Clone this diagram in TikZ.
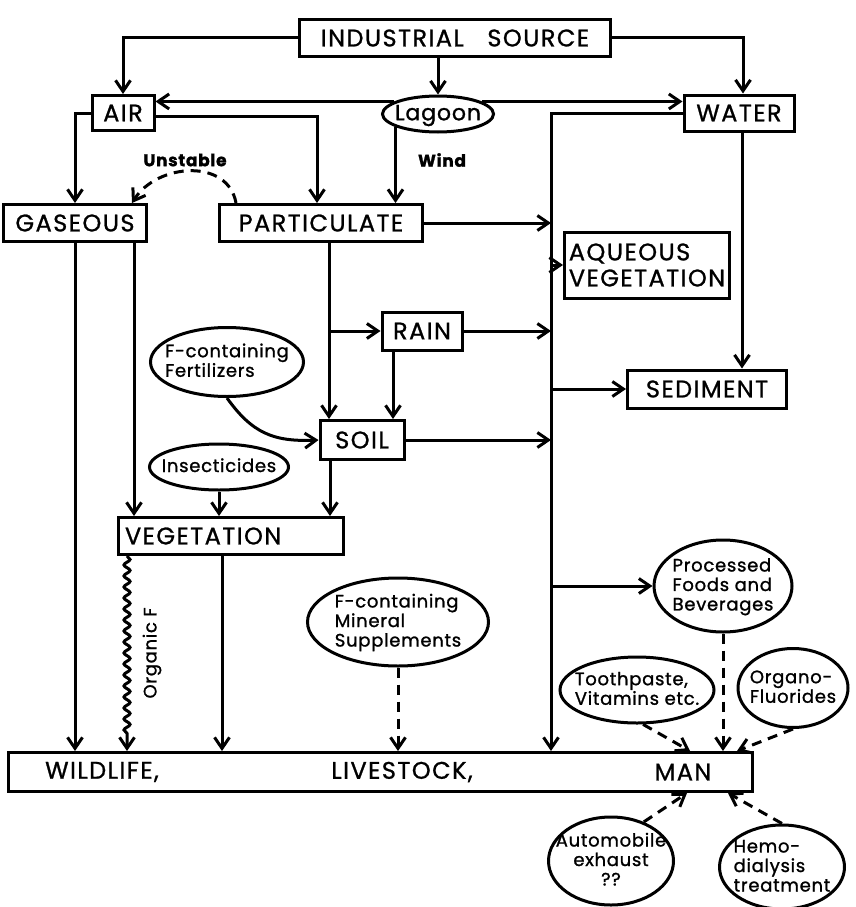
\documentclass[tikz,border=0pt]{standalone}
\usepackage{fontspec}
\setmainfont{Poppins}
\newfontfamily\capsfont[LetterSpace=6,FakeBold=1]{Poppins}
\newfontfamily\lowfont[LetterSpace=4,FakeBold=1.2]{Poppins}
\usetikzlibrary{positioning,arrows.meta,shapes.geometric,calc,%
  decorations.pathmorphing}
% text of an oval, kept out of the oval's size
\newcommand\ovaltext[2][l]{\makebox[0pt]{\raisebox{-0.3em}[0pt][0pt]{%
  \begin{tabular}{@{}#1@{}}#2\end{tabular}}}}
\tikzset{
  node-box/.style={draw,line width=3pt,inner sep=3pt,
    font=\capsfont\fontsize{24}{26}\selectfont},
  node-caps/.style={inner sep=0pt,font=\capsfont\fontsize{24}{26}\selectfont},
  node-oval/.style={draw,ellipse,line width=3pt,inner sep=0pt,
    font=\lowfont\fontsize{18}{19.5}\selectfont},
  node-label/.style={inner sep=0pt,font=\lowfont\bfseries\fontsize{17}{19}\selectfont},
  arrow/.style={-{Straight Barb[length=11pt,width=15pt]},line width=3pt},
  arrow-dash/.style={arrow,dash pattern=on 10pt off 7pt},
  arrow-wave/.style={arrow,decorate,
    decoration={snake,amplitude=3pt,segment length=11pt,post length=14pt}},
}
\begin{document}
\begin{tikzpicture}[x=1pt,y=-1pt]
  \useasboundingbox (0,0) rectangle (855,907);
  % boxes
  \node[node-box,minimum width=311pt,minimum height=37pt] (src) at (455,38) {INDUSTRIAL\ \ \ SOURCE};
  \node[node-box,minimum width=62pt,minimum height=35pt] (air) at (123,113) {AIR};
  \node[node-box,minimum width=110pt,minimum height=36pt] (water) at (739,113) {WATER};
  \node[node-box,minimum width=143pt,minimum height=37pt] (gas) at (75,223) {GASEOUS};
  \node[node-box,minimum width=203pt,minimum height=37pt] (part) at (321,223) {PARTICULATE};
  \node[node-box,minimum width=165pt,minimum height=66pt,align=left] (aqveg) at (647,265) {AQUEOUS\\VEGETATION};
  \node[node-box,minimum width=80pt,minimum height=38pt] (rain) at (422,331) {RAIN};
  \node[node-box,minimum width=159pt,minimum height=38pt] (sed) at (707,389) {SEDIMENT};
  \node[node-box,minimum width=84pt,minimum height=39pt] (soil) at (362,440) {SOIL};
  \node[node-box,minimum width=225pt,minimum height=37pt,text width=212pt,align=left] (veg) at (231,536) {VEGETATION};
  \node[node-box,minimum width=744pt,minimum height=39pt] (target) at (380,772) {};
  \node[node-caps] (wild) at (102,772) {WILDLIFE,};
  \node[node-caps] (stock) at (402,772) {LIVESTOCK,};
  \node[node-caps] (man) at (683,772) {MAN};
  % ovals
  \node[node-oval,minimum width=111pt,minimum height=36pt,font=\lowfont\fontsize{22}{24}\selectfont] (lagoon) at (438,114) {\ovaltext{Lagoon}};
  \node[node-oval,minimum width=153pt,minimum height=69pt] (fert) at (227,362) {\ovaltext{F-containing\\Fertilizers}};
  \node[node-oval,minimum width=139pt,minimum height=46pt] (insect) at (219,467) {\ovaltext{Insecticides}};
  \node[node-oval,minimum width=181pt,minimum height=88pt] (mineral) at (398,622) {\ovaltext{F-containing\\Mineral\\Supplements}};
  \node[node-oval,minimum width=138pt,minimum height=92pt] (proc) at (723,586) {\ovaltext{Processed\\Foods and\\Beverages}};
  \node[node-oval,minimum width=154pt,minimum height=66pt] (tooth) at (637,690) {\ovaltext{Toothpaste,\\Vitamins etc.}};
  \node[node-oval,minimum width=110pt,minimum height=79pt] (organo) at (793,688) {\ovaltext{Organo-\\Fluorides}};
  \node[node-oval,minimum width=125pt,minimum height=88pt] (auto) at (611,861) {\ovaltext[c]{Automobile\\exhaust\\??}};
  \node[node-oval,minimum width=125pt,minimum height=84pt] (hemo) at (782,867) {\ovaltext{Hemo-\\dialysis\\treatment}};
  % labels
  \node[node-label] (wind) at (442,160) {Wind};
  \node[node-label] (unstable) at (185,160) {Unstable};
  \node[node-label,font=\lowfont\fontsize{18}{20}\selectfont,rotate=90] (orgf) at (152,653) {Organic F};
  % from the source
  \draw[arrow] (src.west) -| (air.north);
  \draw[arrow] (src.south -| lagoon.north) -- (lagoon.north);
  \draw[arrow] (src.east) -| ([xshift=4pt]water.north);
  % lagoon
  \draw[arrow] (lagoon.164) -- (lagoon.164 -| air.east);
  \draw[arrow] (lagoon.16) -- (lagoon.16 -| water.west);
  \draw[arrow] (lagoon.197) -- (lagoon.197 |- part.north);
  % air
  \draw[arrow] (air.west) -| (gas.north);
  \draw[arrow] ([yshift=-3pt]air.east) -| ([xshift=-4pt]part.north);
  \draw[arrow-dash] ([xshift=18pt]part.north west) .. controls +(-8,-45) and +(25,-40) .. ([xshift=-16pt]gas.north east);
  % water
  \coordinate (trunk) at (551,113);
  \draw[arrow] (water.west) -- (trunk) -- (trunk |- target.north);
  \draw[arrow] ([xshift=3pt]water.south) -- ([xshift=3pt]water.south |- sed.north);
  \draw[arrow] (aqveg.west -| trunk) -- (aqveg.west);
  \draw[arrow] (sed.west -| trunk) -- (sed.west);
  \draw[arrow] (proc.west -| trunk) -- (proc.west);
  % gaseous
  \draw[arrow] (gas.south) -- (gas.south |- target.north);
  \draw[arrow] ([xshift=59pt]gas.south) -- ([xshift=59pt]gas.south |- veg.north);
  % particulate
  \draw[arrow] ([xshift=8pt]part.south) -- ([xshift=8pt]part.south |- soil.north);
  \draw[arrow] ([xshift=8pt]part.south |- rain.west) -- (rain.west);
  \draw[arrow] (part.east) -- (part.east -| trunk);
  % rain and soil
  \draw[arrow] (rain.east) -- (rain.east -| trunk);
  \draw[arrow] ([xshift=-29pt]rain.south) -- ([xshift=-29pt]rain.south |- soil.north);
  \draw[arrow] (soil.east) -- (soil.east -| trunk);
  \draw[arrow] ([xshift=-32pt]soil.south) -- ([xshift=-32pt]soil.south |- veg.north);
  \draw[arrow] (fert.south) .. controls +(25,35) and +(-45,2) .. (soil.west);
  \draw[arrow] (insect.south) -- (insect.south |- veg.north);
  % vegetation
  \draw[arrow-wave] ([xshift=-104pt]veg.south) -- ([xshift=-104pt]veg.south |- target.north);
  \draw[arrow] ([xshift=-9pt]veg.south) -- ([xshift=-9pt]veg.south |- target.north);
  % other sources for man
  \draw[arrow-dash] (mineral.south) -- (mineral.south |- target.north);
  \draw[arrow-dash] (proc.south) -- (proc.south |- target.north);
  \draw[arrow-dash] (tooth.-80) -- (target.north -| 690,0);
  \draw[arrow-dash] (organo.south) -- (target.north -| 737,0);
  \draw[arrow-dash] (auto.50) -- (target.south -| 687,0);
  \draw[arrow-dash] (hemo.north) -- (target.south -| 728,0);
\end{tikzpicture}
\end{document}
